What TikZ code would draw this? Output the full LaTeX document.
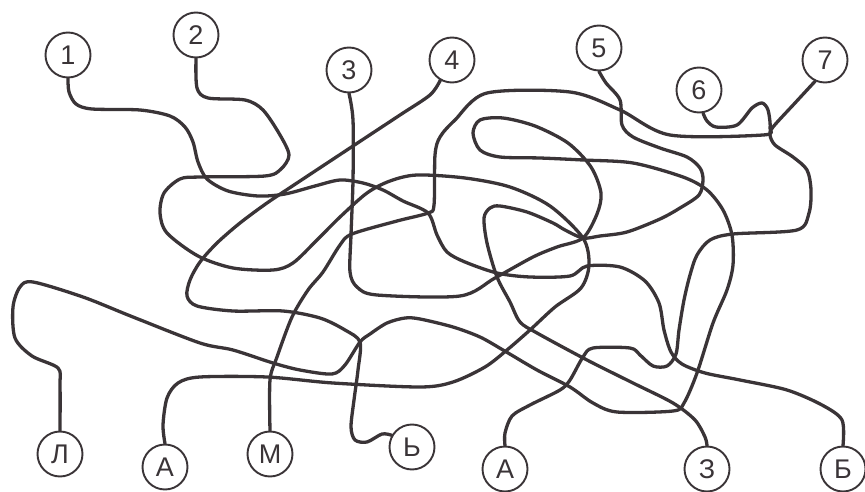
\documentclass[tikz,border=0pt]{standalone}
\usepackage{fontspec}
\setmainfont{Liberation Sans}
\usetikzlibrary{backgrounds}
\definecolor{ink}{HTML}{3A3437}
\tikzset{
  lbl/.style={circle,draw=ink,line width=1.9pt,minimum size=45pt,inner sep=0pt,text=ink,
    font=\fontsize{27}{27}\selectfont},
  wire/.style={draw=ink,line width=3.3pt,line cap=round,line join=round}
}
\begin{document}
\begin{tikzpicture}[x=1pt,y=-1pt]
\useasboundingbox (0,0) rectangle (865,492);
% nodes
\node[lbl] (c1) at (68,55) {1};
\node[lbl] (c2) at (196,35) {2};
\node[lbl] (c3) at (349,70) {3};
\node[lbl] (c4) at (452,60) {4};
\node[lbl] (c5) at (599,48) {5};
\node[lbl] (c6) at (699,90) {6};
\node[lbl] (c7) at (825,60) {7};
\node[lbl] (bL) at (60,454) {Л};
\node[lbl] (bA) at (165,467) {А};
\node[lbl] (bM) at (270,454) {М};
\node[lbl] (bb) at (412,447) {Ь};
\node[lbl] (bA2) at (505,469) {А};
\node[lbl] (bZ) at (707,469) {З};
\node[lbl] (bB) at (843,469) {Б};
\begin{scope}[on background layer]
% 1 -> B
\draw[wire] plot[smooth,tension=0.5] coordinates {(c1.south) (69,92) (76,104) (92,109) (140,110) (170,116) (185,127) (193,142) (198,162) (207,179) (228,191) (258,196) (285,194) (315,186) (340,180) (363,183) (383,190) (403,201) (428,213) (437,235) (447,252) (465,262) (497,273) (530,277) (570,276) (587,266) (620,267) (645,281) (659,303) (664,330) (671,352) (682,364) (705,373) (740,380) (787,390) (822,405) (842,420) (bB.north)};
% 2 -> A
\draw[wire] plot[smooth,tension=0.5] coordinates {(c2.south) (197,88) (208,98) (245,100) (263,110) (280,135) (289,155) (281,169) (265,176) (200,177) (180,179) (164,193) (160,213) (167,233) (198,256) (233,268) (273,270) (293,263) (317,240) (340,217) (367,193) (390,181) (417,175) (465,178) (510,187) (550,206) (583,238) (589,265) (581,288) (555,307) (530,330) (507,350) (485,367) (453,382) (420,387) (333,383) (267,377) (200,377) (178,383) (167,398) (163,425) (bA.north)};
% 3 -> L
\draw[wire] plot[smooth,tension=0.5] coordinates {(c3.south) (353,120) (353,180) (351,235) (350,272) (357,287) (377,295) (460,296) (495,278) (533,257) (557,247) (583,238) (597,214) (601,193) (591,167) (568,143) (535,126) (503,118) (480,120) (473,133) (480,150) (500,157) (540,158) (583,160) (633,163) (683,177) (707,190) (723,210) (732,235) (733,265) (727,290) (713,323) (697,373) (684,403) (673,411) (617,412) (593,403) (570,387) (537,370) (503,350) (480,337) (453,327) (420,319) (405,318) (387,323) (370,334) (360,342) (345,365) (332,374) (300,370) (273,363) (233,350) (200,343) (133,317) (83,297) (33,282) (20,287) (13,307) (15,338) (32,356) (58,368) (60,385) (bL.north)};
% 4 -> soft sign
\draw[wire] plot[smooth,tension=0.5] coordinates {(c4.240) (430,95) (400,115) (353,146) (300,181) (267,203) (240,223) (217,243) (200,262) (190,280) (187,296) (197,306) (233,311) (283,311) (320,318) (345,330) (360,342) (358,370) (354,400) (351,427) (355,440) (367,442) (382,434) (bb.150)};
% 5 -> Ze
\draw[wire] plot[smooth,tension=0.5] coordinates {(c5.south) (606,83) (620,100) (622,125) (633,137) (660,148) (687,157) (700,168) (703,180) (699,195) (680,208) (660,219) (627,232) (600,236) (583,238) (565,230) (553,223) (527,212) (500,206) (490,208) (484,218) (487,243) (497,277) (510,302) (520,322) (537,333) (587,360) (633,383) (673,403) (695,420) (705,437) (bZ.north)};
% 6 -> M
\draw[wire] plot[smooth,tension=0.5] coordinates {(c6.-80) (707,121) (716,127) (737,125) (752,108) (762,103) (768,110) (770,128) (763,135) (670,135) (620,110) (570,92) (487,93) (455,120) (440,137) (435,155) (434,205) (428,213) (397,221) (352,234) (340,245) (323,272) (308,290) (292,317) (277,357) (270,380) (bM.north)};
% 7 -> A
\draw[wire] plot[smooth,tension=0.5] coordinates {(c7.245) (795,103) (773,127) (770,135) (775,145) (793,157) (807,170) (811,190) (809,213) (797,230) (733,234) (710,240) (697,255) (690,275) (684,300) (679,330) (676,354) (667,366) (653,366) (640,355) (630,348) (593,348) (583,357) (570,380) (560,390) (530,405) (512,416) (505,433) (bA2.north)};
\end{scope}
\end{tikzpicture}
\end{document}
